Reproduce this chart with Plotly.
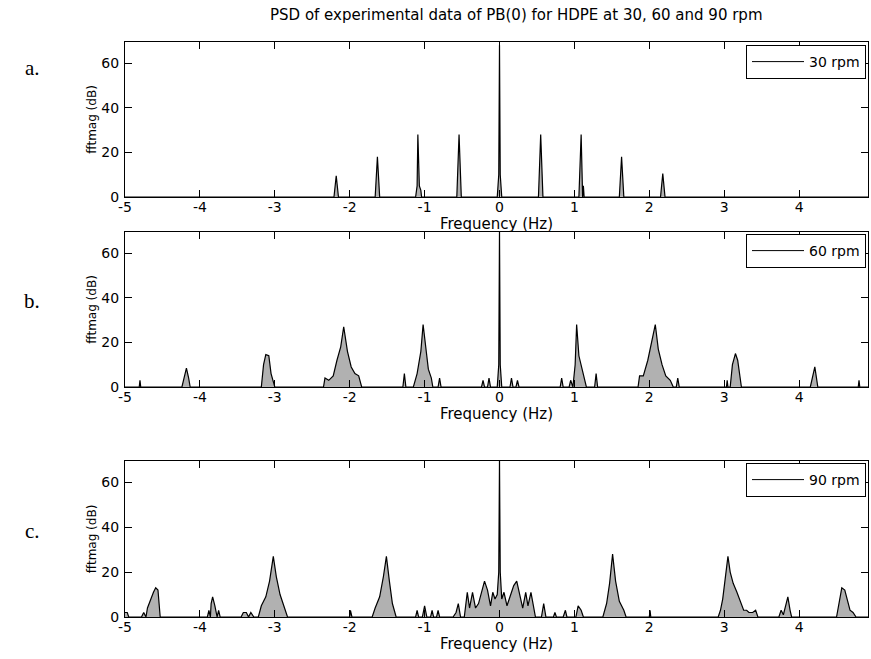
import plotly.graph_objects as go

# ---------------- data ----------------
title_text = "PSD of experimental data of PB(0) for HDPE at 30, 60 and 90 rpm"
series_names = ["30 rpm", "60 rpm", "90 rpm"]
panel_labels = ["a.", "b.", "c."]
x_ticks = [-5, -4, -3, -2, -1, 0, 1, 2, 3, 4]
x_ticktext = ["-5", "-4", "-3", "-2", "-1", "0", "1", "2", "3", "4"]
y_ticks = [0, 20, 40, 60]

freq30 = [-5.0,
          -2.21, -2.18, -2.15,
          -1.66, -1.63, -1.60,
          -1.12, -1.10, -1.09, -1.07, -1.05, -1.04,
          -0.57, -0.54, -0.51,
          -0.03, -0.01, 0.0, 0.01, 0.03,
          0.52, 0.55, 0.58,
          1.06, 1.09, 1.11, 1.12, 1.13,
          1.60, 1.63, 1.66,
          2.15, 2.18, 2.21,
          4.92]
mag30 = [0,
         0, 9.5, 0,
         0, 18, 0,
         0, 5, 28, 5, 3, 0,
         0, 28, 0,
         0, 10, 68, 10, 0,
         0, 28, 0,
         0, 28, 0, 5, 0,
         0, 18, 0,
         0, 10.5, 0,
         0]

freq60 = [-5.0,
          -4.81, -4.80, -4.79,
          -4.24, -4.21, -4.18, -4.15, -4.13,
          -3.18, -3.15, -3.12, -3.08, -3.05, -3.02, -3.00,
          -2.35, -2.33, -2.28, -2.22, -2.17, -2.12, -2.08, -2.03, -1.98, -1.93, -1.88, -1.84,
          -1.29, -1.27, -1.25,
          -1.15, -1.10, -1.05, -1.02, -0.99, -0.95, -0.91, -0.89,
          -0.82, -0.80, -0.78,
          -0.24, -0.22, -0.20, -0.16, -0.14, -0.12,
          -0.03, -0.01, 0.0, 0.01, 0.03,
          0.14, 0.16, 0.18, 0.22, 0.24, 0.26,
          0.81, 0.83, 0.85, 0.93, 0.95, 0.97,
          0.98, 1.01, 1.03, 1.06, 1.10, 1.14, 1.16,
          1.27, 1.29, 1.31,
          1.85, 1.87, 1.92, 1.98, 2.04, 2.08, 2.12, 2.17, 2.22, 2.28, 2.32,
          2.36, 2.38, 2.40,
          3.03, 3.04, 3.05, 3.08, 3.11, 3.15, 3.18, 3.22, 3.23,
          4.15, 4.18, 4.21, 4.25,
          4.79, 4.80, 4.81,
          4.92]
mag60 = [0,
         0, 3, 0,
         0, 5, 8.5, 4, 0,
         0, 10, 14.5, 14, 6, 3, 0,
         0, 4, 3, 5, 12, 18, 27, 16, 9, 6, 5, 0,
         0, 6, 0,
         0, 6, 16, 28, 19, 8, 4, 0,
         0, 4, 0,
         0, 3, 0, 0, 4, 0,
         0, 10, 70, 10, 0,
         0, 4, 0, 0, 3, 0,
         0, 4, 0, 0, 3, 0,
         0, 10, 28, 14, 8, 3, 0,
         0, 6, 0,
         0, 5, 5, 12, 22, 28, 17, 10, 5, 3, 0,
         0, 4, 0,
         0, 3, 0, 0, 10, 15, 12, 4, 0,
         0, 5, 9, 0,
         0, 3, 0,
         0]

freq90 = [-5.0, -4.97, -4.95,
          -4.78, -4.75, -4.72, -4.70, -4.66, -4.62, -4.59, -4.56, -4.53,
          -3.90, -3.88, -3.86, -3.85, -3.83, -3.80, -3.77, -3.75, -3.73,
          -3.45, -3.42, -3.38, -3.35, -3.32, -3.28,
          -3.22, -3.18, -3.12, -3.07, -3.02, -2.98, -2.93, -2.88, -2.83,
          -2.00, -1.99, -1.97,
          -1.70, -1.66, -1.60, -1.55, -1.51, -1.47, -1.43, -1.38,
          -1.12, -1.10, -1.08, -1.03, -1.00, -0.97, -0.92, -0.90, -0.88, -0.84, -0.82, -0.80,
          -0.62, -0.58, -0.55, -0.52,
          -0.47, -0.43, -0.40, -0.36, -0.32, -0.28, -0.25, -0.20, -0.16, -0.12, -0.09, -0.06,
          -0.03, -0.01, 0.0, 0.01, 0.03, 0.06, 0.10, 0.14, 0.19, 0.23, 0.27, 0.31, 0.35, 0.38,
          0.42, 0.46, 0.48,
          0.56, 0.59, 0.62,
          0.72, 0.74, 0.76, 0.85, 0.88, 0.90, 1.02, 1.05, 1.09, 1.12,
          1.38, 1.43, 1.47, 1.51, 1.55, 1.60, 1.66, 1.69,
          2.00, 2.01, 2.02,
          2.92, 2.95, 2.98, 3.02, 3.05, 3.08, 3.12, 3.17, 3.22, 3.26, 3.30, 3.33, 3.38, 3.42, 3.45,
          3.73, 3.76, 3.79, 3.82, 3.85, 3.88, 3.90,
          4.50, 4.53, 4.57, 4.61, 4.65, 4.68, 4.72, 4.76,
          4.92]
mag90 = [2, 2, 0,
         0, 2, 0, 4, 8, 11, 13, 12, 0,
         0, 3, 0, 6, 9, 5, 0, 3, 0,
         0, 2, 2, 0, 2, 0,
         0, 5, 9, 16, 27, 18, 10, 5, 0,
         0, 3, 0,
         0, 4, 9, 18, 27, 16, 6, 0,
         0, 3, 0, 0, 5, 0, 0, 3, 0, 0, 3, 0,
         0, 2, 6, 0,
         0, 11, 4, 11, 4, 6, 10, 16, 12, 5, 11, 8,
         10, 20, 70, 20, 8, 11, 5, 9, 14, 16, 10, 4, 11, 5,
         11, 3, 0,
         0, 6, 0,
         0, 2, 0, 0, 3, 0, 0, 5, 3, 0,
         0, 6, 15, 28, 16, 7, 3, 0,
         0, 3, 0,
         0, 3, 8, 18, 27, 20, 15, 11, 6, 3, 3, 2, 2, 3, 0,
         0, 3, 1, 5, 9, 3, 0,
         0, 6, 13, 12, 6, 3, 2, 0,
         0]

freqs = [freq30, freq60, freq90]
mags = [mag30, mag60, mag90]

# ---------------- layout geometry ----------------
W, H = 871, 659
x_dom = [125 / W, 868 / W]
y_doms = [[1 - 197 / H, 1 - 42 / H],
          [1 - 387 / H, 1 - 232 / H],
          [1 - 617 / H, 1 - 461 / H]]
legend_tops = [1 - 45 / H, 1 - 234 / H, 1 - 463 / H]
label_ys = [1 - 68 / H, 1 - 301 / H, 1 - 531 / H]

FONT = "DejaVu Sans, Arial, sans-serif"

fig = go.Figure()
for i in range(3):
    sfx = "" if i == 0 else str(i + 1)
    fig.add_trace(go.Scatter(
        x=freqs[i], y=mags[i], mode="lines",
        line=dict(color="black", width=1.2),
        fill="tozeroy", fillcolor="rgba(60,60,60,0.4)",
        showlegend=False, hoverinfo="x+y",
        xaxis="x" + sfx, yaxis="y" + sfx))
    # legend proxy (line only)
    fig.add_trace(go.Scatter(
        x=[None], y=[None], mode="lines", name=series_names[i],
        line=dict(color="black", width=1),
        legend="legend" + sfx, showlegend=True,
        xaxis="x" + sfx, yaxis="y" + sfx))

axis_common = dict(showline=True, linecolor="black", linewidth=1, mirror="ticks",
                   ticks="inside", ticklen=7, tickcolor="black",
                   showgrid=False, zeroline=False, automargin=False,
                   tickfont=dict(family=FONT, size=14, color="black"))

layout = dict(width=W, height=H, margin=dict(l=0, r=0, t=0, b=0, autoexpand=False),
              paper_bgcolor="white", plot_bgcolor="white",
              font=dict(family=FONT, color="black"))
for i in range(3):
    sfx = "" if i == 0 else str(i + 1)
    layout["xaxis" + sfx] = dict(axis_common, domain=x_dom, range=[-5, 4.92],
                                 tickvals=x_ticks, ticktext=x_ticktext, anchor="y" + sfx,
                                 ticklabelstandoff=-3,
                                 title=dict(text="Frequency (Hz)", standoff=0,
                                            font=dict(family=FONT, size=15)))
    layout["yaxis" + sfx] = dict(axis_common, domain=y_doms[i], range=[0, 69.5],
                                 tickvals=y_ticks, anchor="x" + sfx,
                                 ticklabelstandoff=2,
                                 title=dict(text="fftmag (dB)", standoff=2,
                                            font=dict(family=FONT, size=12)))
    layout["legend" + sfx] = dict(x=746 / W, xanchor="left", y=legend_tops[i], yanchor="top",
                                  orientation="v",
                                  bordercolor="black", borderwidth=1, bgcolor="white",
                                  font=dict(family=FONT, size=14),
                                  itemwidth=52, tracegroupgap=0)

fig.update_layout(**layout)

fig.add_annotation(text=title_text, xref="paper", yref="paper", x=516 / W, y=1 - 15 / H,
                   showarrow=False, font=dict(family=FONT, size=15, color="black"),
                   xanchor="center", yanchor="middle")
for i in range(3):
    fig.add_annotation(text=panel_labels[i], xref="paper", yref="paper", x=32 / W, y=label_ys[i],
                       showarrow=False, xanchor="center", yanchor="middle",
                       font=dict(family="Liberation Serif, Times New Roman, serif", size=21, color="black"))

fig.write_html("out.html", config={"displayModeBar": False},
               post_script="document.body.style.margin='0';document.body.style.overflow='hidden';")
